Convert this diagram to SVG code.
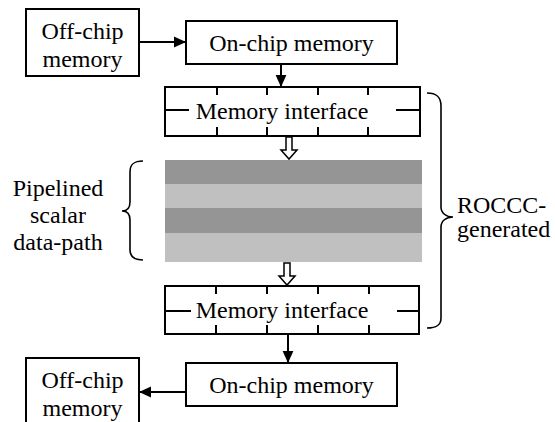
<svg xmlns="http://www.w3.org/2000/svg" width="555" height="422" viewBox="0 0 555 422">
  <style>
    .box { fill: #fff; stroke: #000; stroke-width: 2; }
    .ln { fill: none; stroke: #000; stroke-width: 2; }
    .hollow { fill: #fff; stroke: #000; stroke-width: 1.5; stroke-linejoin: miter; }
    .brace { fill: none; stroke: #000; stroke-width: 1.6; }
    .t { font-family: 'Liberation Serif', serif; font-size: 24px; fill: #000; }
    .mid { text-anchor: middle; }
  </style>
  <defs>
    <marker id="head" viewBox="0 0 10 10" refX="10" refY="5" markerWidth="12" markerHeight="12" orient="auto" markerUnits="userSpaceOnUse">
      <path d="M0,0.5 L10,5 L0,9.5 z" fill="#000"/>
    </marker>
  </defs>

  <!-- connectors -->
  <g id="connectors">
    <line class="ln" x1="139" y1="42" x2="186" y2="42" marker-end="url(#head)"/>
    <line class="ln" x1="281" y1="64" x2="281" y2="87" marker-end="url(#head)"/>
    <line class="ln" x1="288" y1="334" x2="288" y2="363" marker-end="url(#head)"/>
    <line class="ln" x1="186" y1="392" x2="139" y2="392" marker-end="url(#head)"/>
    <!-- wide hollow arrows into and out of the data-path -->
    <path class="hollow" d="M286,137 H292 V150 H297 L289,159 L281,150 H286 Z"/>
    <path class="hollow" d="M284,263 H290 V276 H295 L287,285 L279,276 H284 Z"/>
  </g>

  <!-- off-chip memory (input) -->
  <g id="offchip-in">
    <rect class="box" x="26" y="9" width="113" height="67"/>
    <text class="t mid" x="82.5" y="39">Off-chip</text>
    <text class="t mid" x="82.5" y="67">memory</text>
  </g>

  <!-- on-chip memory (input) -->
  <g id="onchip-in">
    <rect class="box" x="186" y="21" width="211" height="43"/>
    <text class="t mid" x="291.5" y="51">On-chip memory</text>
  </g>

  <!-- memory interface (input side) -->
  <g id="memif-in">
    <rect class="box" x="165" y="87" width="255" height="49"/>
    <path class="ln" d="M217,87 V95 M267,87 V95 M318,87 V95 M368,87 V95 M217,127 V136 M267,127 V136 M318,127 V136 M368,127 V136 M165,110 H189 M396,110 H420"/>
    <text class="t mid" x="282" y="119">Memory interface</text>
  </g>

  <!-- pipelined data-path stages -->
  <g id="datapath">
    <rect x="165" y="160" width="257" height="24" fill="#959595"/>
    <rect x="165" y="184" width="257" height="24" fill="#c0c0c0"/>
    <rect x="165" y="208" width="257" height="25" fill="#959595"/>
    <rect x="165" y="233" width="257" height="29" fill="#c0c0c0"/>
  </g>

  <!-- memory interface (output side) -->
  <g id="memif-out">
    <rect class="box" x="165" y="286" width="254" height="48"/>
    <path class="ln" d="M216,286 V294 M267,286 V294 M318,286 V294 M369,286 V294 M216,325 V334 M267,325 V334 M318,325 V334 M369,325 V334 M165,311 H191 M397,311 H419"/>
    <text class="t mid" x="282" y="318">Memory interface</text>
  </g>

  <!-- on-chip memory (output) -->
  <g id="onchip-out">
    <rect class="box" x="186" y="363" width="211" height="43"/>
    <text class="t mid" x="291.5" y="393">On-chip memory</text>
  </g>

  <!-- off-chip memory (output) -->
  <g id="offchip-out">
    <rect class="box" x="26" y="358" width="113" height="70"/>
    <text class="t mid" x="82.5" y="388">Off-chip</text>
    <text class="t mid" x="82.5" y="416">memory</text>
  </g>

  <!-- label: pipelined scalar data-path -->
  <g id="label-datapath">
    <path class="brace" d="M143,161 C134,161 130,164 130,172 V202 C130,208 127,211 122,211 C127,211 130,214 130,220 V250 C130,257 134,260 143,260"/>
    <text class="t mid" x="58" y="196">Pipelined</text>
    <text class="t mid" x="58" y="223">scalar</text>
    <text class="t mid" x="58" y="250">data-path</text>
  </g>

  <!-- label: ROCCC-generated -->
  <g id="label-roccc">
    <path class="brace" d="M427,93 C437,93 441,97 441,106 V207 C441,213 446,217 453,217 C446,217 441,221 441,227 V318 C441,325 437,328 427,328"/>
    <text class="t" x="457" y="213">ROCCC-</text>
    <text class="t" x="457" y="237">generated</text>
  </g>
</svg>
